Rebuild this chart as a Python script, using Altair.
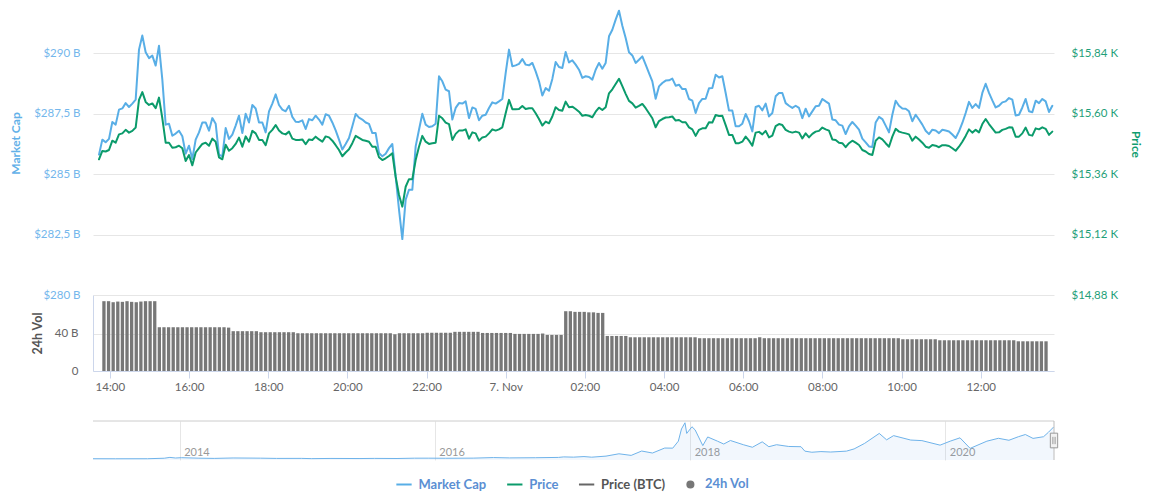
import altair as alt
import pandas as pd

# ---------------- data ----------------
# Market cap (billion USD), 5-minute samples starting 2020-11-06 13:51 UTC
MCAP = [
    285.80, 286.42, 286.31, 286.45, 287.15, 287.04, 287.66, 287.71, 287.93, 287.77,
    287.91, 288.07, 290.14, 290.72, 290.03, 289.79, 289.89, 289.48, 290.30, 288.90,
    287.04, 287.08, 286.58, 286.67, 286.79, 286.56, 285.84, 286.17, 285.62, 286.42,
    286.72, 287.13, 287.13, 286.79, 287.31, 287.08, 285.80, 285.73, 286.90, 286.45,
    286.63, 287.00, 287.41, 286.69, 287.49, 287.13, 287.85, 287.71, 287.13, 287.13,
    286.72, 287.59, 287.91, 288.29, 287.85, 287.66, 287.59, 287.82, 287.36, 287.16,
    287.15, 287.22, 286.86, 287.27, 287.22, 287.41, 287.25, 287.04, 287.47, 287.41,
    287.13, 286.80, 286.42, 286.01, 286.24, 286.49, 286.97, 287.48, 287.33, 287.25,
    287.13, 287.07, 286.69, 286.69, 285.87, 285.73, 285.84, 286.07, 286.24, 284.90,
    283.53,
    282.31, 283.94, 284.35, 284.35, 286.14, 286.83, 287.49, 287.04, 286.94,
    286.97, 287.08, 289.04, 288.83, 288.49, 288.42, 287.25, 287.73, 287.93, 287.91,
    288.00, 287.31, 287.75, 287.69, 287.22, 287.41, 287.45, 287.73, 287.96, 287.91,
    288.00, 288.10, 289.17, 290.14, 289.45, 289.49, 289.55, 289.75, 289.52, 289.49,
    289.59, 289.24, 288.83, 288.24, 288.55, 288.44, 288.93, 289.63, 289.42, 289.38,
    290.04, 289.61, 289.70, 289.52, 289.31, 288.97, 289.04, 289.01, 288.90, 289.31,
    289.59, 289.35, 289.59, 290.69, 290.96, 291.38, 291.75, 291.13, 290.62, 290.03,
    289.90, 289.59, 289.72, 289.86, 289.52, 289.17, 288.83, 288.11, 288.62, 288.76,
    288.86, 288.87, 288.94, 288.65, 288.69, 288.51, 288.51, 288.10, 288.03, 287.52,
    287.93, 288.10, 288.11, 288.54, 288.55, 289.10, 288.99, 289.04, 288.35, 287.62,
    287.62, 286.97, 286.97, 287.08, 287.48, 287.18, 286.76, 287.77, 287.82, 287.63,
    287.91, 287.38, 287.52, 288.21, 288.35,
    288.35, 287.93, 287.82, 287.73, 287.82, 287.73, 287.31, 287.70, 287.38, 287.59,
    287.80, 287.82, 288.10, 288.00, 287.91, 287.25, 287.22, 287.04, 287.00, 286.65,
    286.97, 287.15, 287.00, 286.83, 286.46, 286.31, 286.14, 286.12, 287.13, 287.36,
    287.27, 287.00, 286.72, 287.45, 288.03, 287.82, 287.71, 287.70, 287.59, 287.18,
    287.45, 287.25, 287.04, 286.79, 286.65, 286.83, 286.80, 286.69, 286.83, 286.80,
    286.76, 286.63, 286.49, 286.76, 287.11, 287.52, 287.98, 287.73, 287.89, 287.73,
    288.35, 288.73, 288.35, 288.04, 287.75, 287.82, 287.96, 288.00, 288.14, 288.07,
    287.42, 287.45, 287.75, 288.10, 287.59, 287.55, 288.03, 287.93, 288.10, 288.00,
    287.56, 287.82,
]

# Price (USD), same timestamps
PRICE = [
    15419, 15452, 15450, 15456, 15493, 15485, 15518, 15522, 15536, 15525,
    15532, 15545, 15655, 15686, 15647, 15635, 15641, 15622, 15664, 15582,
    15485, 15485, 15465, 15467, 15473, 15463, 15412, 15436, 15395, 15446,
    15463, 15480, 15485, 15473, 15501, 15489, 15427, 15419, 15477, 15453,
    15463, 15480, 15505, 15469, 15510, 15489, 15532, 15522, 15496, 15496,
    15475, 15522, 15536, 15555, 15533, 15522, 15518, 15529, 15501, 15496,
    15496, 15498, 15479, 15498, 15496, 15509, 15498, 15489, 15510, 15506,
    15493, 15475, 15456, 15431, 15446, 15459, 15483, 15512, 15504, 15496,
    15493, 15489, 15469, 15469, 15427, 15416, 15423, 15432, 15443, 15349,
    15277,
    15231, 15310, 15340, 15340, 15416, 15469, 15512, 15489, 15480,
    15483, 15485, 15592, 15582, 15565, 15559, 15496, 15520, 15533, 15533,
    15538, 15501, 15526, 15522, 15493, 15506, 15509, 15522, 15538, 15533,
    15538, 15546, 15602, 15655, 15618, 15618, 15619, 15631, 15619, 15622,
    15622, 15602, 15579, 15553, 15569, 15562, 15589, 15626, 15615, 15612,
    15648, 15626, 15628, 15619, 15608, 15592, 15595, 15592, 15586, 15608,
    15624, 15615, 15626, 15681, 15697, 15718, 15739, 15710, 15679, 15651,
    15641, 15624, 15631, 15639, 15622, 15602, 15582, 15546, 15571, 15579,
    15585, 15586, 15589, 15573, 15575, 15566, 15566, 15546, 15538, 15512,
    15536, 15542, 15542, 15566, 15565, 15595, 15591, 15592, 15555, 15516,
    15516, 15483, 15483, 15489, 15509, 15493, 15473, 15525, 15528, 15518,
    15532, 15506, 15513, 15551, 15559,
    15555, 15536, 15529, 15525, 15529, 15525, 15502, 15522, 15506, 15520,
    15529, 15532, 15545, 15538, 15533, 15498, 15496, 15485, 15483, 15467,
    15483, 15493, 15485, 15476, 15456, 15450, 15440, 15436, 15493, 15506,
    15498, 15483, 15469, 15509, 15540, 15529, 15525, 15522, 15518, 15493,
    15509, 15498, 15485, 15469, 15465, 15476, 15473, 15467, 15475, 15475,
    15472, 15463, 15453, 15469, 15489, 15512, 15538, 15525, 15536, 15526,
    15559, 15579, 15559, 15542, 15525, 15526, 15536, 15540, 15546, 15545,
    15509, 15509, 15522, 15545, 15516, 15513, 15542, 15538, 15546, 15540,
    15516, 15529,
]

# 24h volume (billion USD), 7-minute samples starting 2020-11-06 13:51 UTC
VOL = [
    74.5, 74.5, 73.4, 74.1, 73.8, 74.5, 73.8, 73.4, 74.1, 74.5, 74.5, 74.5,
    46.7, 46.7, 46.7, 46.7, 46.7, 46.7, 46.7, 46.7, 46.7, 46.7, 46.7, 46.7,
    46.7, 46.7, 46.7, 46.3,
    42.5, 42.5, 42.5, 42.5, 42.5, 42.5,
    41.4, 41.4, 41.4, 41.4, 41.4, 41.4, 41.4, 41.4,
    40.3, 40.3, 40.3, 40.3, 40.3, 40.3, 40.3, 40.3, 40.3, 40.3, 40.3, 40.3,
    40.3, 40.3, 40.3, 40.3, 40.3, 40.3, 40.3, 40.3, 40.3, 39.2, 40.3, 40.3,
    40.3, 40.3, 40.3, 40.3,
    40.8, 40.8, 40.8, 40.8, 40.8, 40.8,
    41.8, 41.8, 41.8, 41.8, 41.8, 41.8,
    40.6, 40.6, 40.6, 40.6, 40.6, 40.6, 40.6,
    39.6, 39.6, 39.6, 39.6, 39.6, 39.6,
    40.0, 38.5, 38.5, 38.5, 38.5,
    63.8, 63.8, 63.1, 63.1, 63.1, 62.6, 62.6, 62.0, 62.0,
    37.4, 37.4, 37.4, 37.4, 37.4,
    36.0, 36.0, 36.0, 36.0, 36.0, 36.0, 36.0, 36.0, 36.0, 36.0, 36.0, 36.0,
    36.0, 36.0, 36.0,
    35.0, 35.0, 35.0, 35.0, 35.0, 35.0, 35.0, 35.0, 35.0, 35.0, 35.0, 35.0,
    35.0, 36.0, 35.0, 35.0, 35.0, 35.0, 35.0, 35.0, 35.0, 35.0, 35.0, 35.0,
    35.0, 35.0, 35.0, 35.0, 35.0, 35.0, 35.0, 35.0, 35.0, 35.0, 35.0, 35.0,
    35.0, 35.0, 35.0, 35.0, 35.0, 35.0, 35.0, 35.0,
    33.9, 33.9, 33.9, 33.9, 33.9, 33.9, 33.9, 33.9,
    32.8, 32.8, 32.8, 32.8, 32.8, 32.8, 32.8, 32.8, 32.8, 32.8, 32.8, 32.8,
    32.8, 32.8, 32.8, 32.8, 32.8,
    31.7, 31.7, 31.7, 31.7, 31.7, 31.7, 31.7,
]

# Navigator: all-time market cap (billion USD)
NAV_DATES = [
    "2013-04-28", "2013-07-01", "2013-10-01", "2013-11-18", "2013-12-04", "2013-12-20",
    "2014-01-06", "2014-02-25", "2014-04-10", "2014-06-03", "2014-08-20", "2014-10-05",
    "2014-12-15", "2015-01-14", "2015-03-10", "2015-06-01", "2015-07-12", "2015-09-15",
    "2015-11-04", "2015-12-15", "2016-02-01", "2016-04-20", "2016-06-17", "2016-08-02",
    "2016-10-15", "2016-12-20", "2017-01-04", "2017-02-01", "2017-03-03", "2017-03-25",
    "2017-05-05", "2017-06-11", "2017-07-16", "2017-08-15", "2017-09-15", "2017-10-20",
    "2017-11-12", "2017-11-28", "2017-12-07", "2017-12-17", "2017-12-22", "2018-01-06",
    "2018-01-15", "2018-02-06", "2018-02-20", "2018-03-20", "2018-04-07", "2018-04-26",
    "2018-06-02", "2018-06-28", "2018-07-26", "2018-08-14", "2018-09-05", "2018-10-10",
    "2018-11-14", "2018-11-25", "2018-12-15", "2019-01-10", "2019-02-07", "2019-03-24",
    "2019-04-15", "2019-05-15", "2019-06-26", "2019-07-17", "2019-08-06", "2019-09-24",
    "2019-10-26", "2019-12-17", "2020-01-15", "2020-02-12", "2020-03-12", "2020-04-29",
    "2020-06-01", "2020-07-01", "2020-07-28", "2020-08-17", "2020-09-08", "2020-10-08",
    "2020-10-22", "2020-11-06",
]
NAV_VALUES = [
    1.5, 1.0, 1.5, 6, 13.5, 8,
    11, 6.5, 4.5, 8.2, 6.6, 4.3,
    4.6, 2.4, 4, 3.2, 4.4, 3.4,
    6.4, 6.6, 5.7, 6.9, 12, 8.9,
    10.5, 13.3, 18, 15.8, 21, 15.5,
    25, 46, 31.5, 71, 53, 98,
    97, 160, 270, 326, 230, 290,
    262, 120, 198, 160, 134, 166,
    128, 105, 154, 110, 128, 112,
    110, 70, 60, 66, 62, 70,
    90, 140, 230, 172, 210, 170,
    165, 124, 160, 190, 95, 160,
    186, 168, 200, 220, 185, 200,
    240, 288,
]

LEGEND_ITEMS = ["Market Cap", "Price", "Price (BTC)", "24h Vol"]
LEGEND_COLORS = ["#58aee6", "#0b9b6b", "#666666", "#777777"]

MCAP_TICKS = [280, 282.5, 285, 287.5, 290]
PRICE_TICKS = [14880, 15120, 15360, 15600, 15840]
VOL_TICKS = [0, 40]

# ---------------- tables ----------------
def iso(ts):
    return ts.strftime("%Y-%m-%dT%H:%M:%SZ")


def ms(s):
    return int(pd.Timestamp(s).value // 10**6)


line_times = [iso(t) for t in pd.date_range("2020-11-06 13:51", periods=len(MCAP), freq="5min")]
vol_times = [iso(t) for t in pd.date_range("2020-11-06 13:51", periods=len(VOL), freq="7min")]

mcap_df = pd.DataFrame({"t": line_times, "v": MCAP, "series": "Market Cap"})
price_df = pd.DataFrame({"t": line_times, "v": PRICE, "series": "Price"})
vol_df = pd.DataFrame({"t": vol_times, "v": VOL, "series": "24h Vol"})
nav_df = pd.DataFrame({"t": [d + "T00:00:00Z" for d in NAV_DATES], "v": NAV_VALUES})

X_DOMAIN = [ms("2020-11-06T13:42:00Z"), ms("2020-11-07T13:43:30Z")]
X_TICKS = [ms(f"2020-11-06T{h:02d}:00:00Z") for h in (14, 16, 18, 20, 22)] + \
          [ms(f"2020-11-07T{h:02d}:00:00Z") for h in (0, 2, 4, 6, 8, 10, 12)]
NAV_DOMAIN = [ms("2013-04-28T00:00:00Z"), ms("2020-11-07T00:00:00Z")]
NAV_TICKS = [ms(f"{y}-01-01T00:00:00Z") for y in (2014, 2016, 2018, 2020)]
NAV_Y = [-10, 342]

FONT = "Lato"
W = 961

color_scale = alt.Scale(domain=LEGEND_ITEMS, range=LEGEND_COLORS)
legend = alt.Legend(
    title=None,
    orient="none",
    legendX=302,
    legendY=467,
    direction="horizontal",
    symbolType=alt.ExprRef(expr="datum.value === '24h Vol' ? 'M-0.4,0A0.4,0.4,0,1,0,0.4,0A0.4,0.4,0,1,0,-0.4,0Z' : 'stroke'"),
    symbolSize=234,
    symbolStrokeWidth=2,
    symbolOpacity=1,
    labelColor=alt.ExprRef(expr="datum.value === 'Price (BTC)' ? '#555555' : '#5b8fd3'"),
    labelFont=FONT,
    labelFontSize=13,
    labelFontWeight="bold",
    columnPadding=15.8,
    labelOffset=5.5,
)

# ---------------- main panel ----------------
x_hidden = alt.X("t:T", scale=alt.Scale(type="utc", domain=X_DOMAIN), axis=None)

mcap_line = alt.Chart(mcap_df).mark_line(strokeWidth=2, strokeJoin="round", strokeCap="round").encode(
    x=x_hidden,
    y=alt.Y(
        "v:Q",
        scale=alt.Scale(domain=[280, 291.86], nice=False, zero=False),
        axis=alt.Axis(
            values=MCAP_TICKS,
            labelExpr="'$' + replace(format(datum.value, '.1~f'), '.', ',') + ' B'",
            title="Market Cap",
            titleX=-78, titleY=135, titleAngle=-90, titleBaseline="middle", titleAlign="center",
            titleColor="#62b0e8", titleFontSize=12, titleFontWeight="bold", titleFont=FONT,
            labelColor="#74b7ec", labelFontSize=11.5, labelFont=FONT, labelPadding=13,
            grid=True, gridColor="#e6e6e6", domain=False, ticks=False, tickSize=0,
        ),
    ),
    color=alt.Color("series:N", scale=color_scale, legend=legend),
)

price_line = alt.Chart(price_df).mark_line(strokeWidth=2, strokeJoin="round", strokeCap="round").encode(
    x=x_hidden,
    y=alt.Y(
        "v:Q",
        scale=alt.Scale(domain=[14880, 16020], nice=False, zero=False),
        axis=alt.Axis(
            orient="right",
            values=PRICE_TICKS,
            labelExpr="'$' + replace(format(datum.value / 1000, '.2f'), '.', ',') + ' K'",
            title="Price",
            titleX=81, titleY=136, titleAngle=90, titleBaseline="middle", titleAlign="center",
            titleColor="#109d6f", titleFontSize=12, titleFontWeight="bold", titleFont=FONT,
            labelColor="#1f9f79", labelFontSize=11.5, labelFont=FONT, labelPadding=17,
            grid=False, domain=False, ticks=False, tickSize=0,
        ),
    ),
    color=alt.Color("series:N", scale=color_scale, legend=legend),
)

main = alt.layer(mcap_line, price_line).resolve_scale(y="independent").properties(width=W, height=287)

# ---------------- volume panel ----------------
vol = alt.Chart(vol_df).mark_bar(size=3.3).encode(
    x=alt.X(
        "t:T",
        scale=alt.Scale(type="utc", domain=X_DOMAIN),
        axis=alt.Axis(
            values=X_TICKS,
            labelExpr="utchours(datum.value) == 0 ? '7. Nov' : utcFormat(datum.value, '%H:%M')",
            title=None, grid=False,
            domainColor="#ccd6eb", tickColor="#ccd6eb", tickSize=7,
            labelPadding=3, labelColor="#666666", labelFontSize=11.5, labelFont=FONT,
        ),
    ),
    y=alt.Y(
        "v:Q",
        scale=alt.Scale(domain=[0, 81.1], nice=False),
        axis=alt.Axis(
            values=VOL_TICKS,
            labelExpr="datum.value == 0 ? '0' : datum.value + ' B'",
            title="24h Vol",
            titleX=-56, titleY=38, titleAngle=-90, titleBaseline="middle", titleAlign="center",
            titleColor="#555555", titleFontSize=12.5, titleFontWeight="bold", titleFont=FONT,
            labelColor="#666666", labelFontSize=11.5, labelFont=FONT, labelPadding=15,
            grid=True, gridColor="#e6e6e6", domain=True, domainColor="#ccd6eb",
            ticks=False, tickSize=0,
        ),
    ),
    color=alt.Color("series:N", scale=color_scale, legend=legend),
).properties(width=W, height=76)

# ---------------- navigator ----------------
nav_x = alt.X(
    "t:T",
    scale=alt.Scale(type="utc", domain=NAV_DOMAIN),
    axis=alt.Axis(
        values=NAV_TICKS,
        labelExpr="utcFormat(datum.value, '%Y')",
        title=None, grid=True, gridColor="#e6e6e6", domain=False, ticks=False, tickSize=0,
        labelPadding=-14, labelAlign="left", labelOffset=4,
        labelColor="#999999", labelFontSize=11, labelFont=FONT,
    ),
)
nav_y = alt.Y("v:Q", scale=alt.Scale(domain=NAV_Y, nice=False, zero=False), axis=None)

nav_area = alt.Chart(nav_df).mark_area(color="#7cb5ec", fillOpacity=0.1).encode(
    x=nav_x, y=nav_y, y2=alt.datum(NAV_Y[0])
)
nav_line = alt.Chart(nav_df).mark_line(color="#6fb3ea", strokeWidth=1, strokeJoin="round").encode(x=nav_x, y=nav_y)
nav_top = alt.Chart(pd.DataFrame({"v": [NAV_Y[1]]})).mark_rule(color="#cccccc").encode(y=nav_y)
edge_df = pd.DataFrame({"t": ["2020-11-07T00:00:00Z"], "v": [166]})
nav_edge = alt.Chart(edge_df).mark_rule(color="#bbbbbb").encode(x=nav_x)
nav_handle = alt.Chart(edge_df).mark_point(
    shape="M-0.5,-1L0.5,-1L0.5,1L-0.5,1Z M-0.15,-0.5L-0.15,0.5 M0.15,-0.5L0.15,0.5",
    size=215, filled=True, fill="#f2f2f2", stroke="#999999", strokeWidth=1, opacity=1,
).encode(x=nav_x, y=nav_y)

nav = alt.layer(nav_area, nav_line, nav_top, nav_edge, nav_handle).properties(width=W, height=39)

# ---------------- compose ----------------
top = alt.vconcat(main, vol, spacing=0, bounds="flush")
chart = (
    alt.vconcat(top, nav, spacing=27)
    .properties(padding={"left": 1, "top": 0, "right": 8, "bottom": 0}, background="white")
    .configure(font=FONT)
    .configure_view(stroke="transparent", strokeWidth=0)
)

chart.save("out.html", embed_options={"renderer": "svg", "actions": False})
